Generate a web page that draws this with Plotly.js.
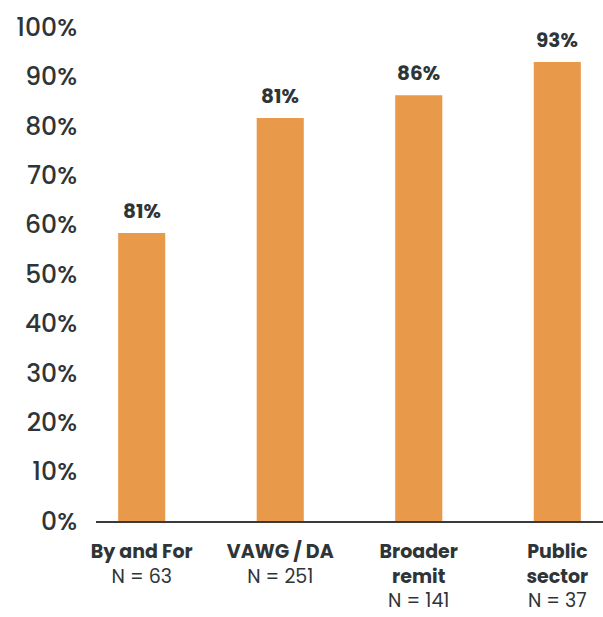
<!DOCTYPE html>
<html>
<head>
<meta charset="utf-8">
<script src="https://cdn.plot.ly/plotly-3.0.1.min.js"></script>
<style>
  html, body { margin: 0; padding: 0; background: #ffffff; }
  #chart { width: 603px; height: 617px; }
</style>
</head>
<body>
<div id="chart"></div>
<script>
const categories = ["By and For", "VAWG / DA", "Broader remit", "Public sector"];
const tickLabels = [
  "<b>By and For</b><br>N = 63",
  "<b>VAWG / DA</b><br>N = 251",
  "<b>Broader<br>remit</b><br>N = 141",
  "<b>Public<br>sector</b><br>N = 37"
];
const values = [0.583, 0.816, 0.862, 0.929];
const valueLabels = ["81%", "81%", "86%", "93%"];

const FONT = "Poppins, Inter, 'Open Sans', sans-serif";
const DARK = "#2f3537";

const trace = {
  type: "bar",
  x: categories,
  y: values,
  marker: { color: "#E8994A" },
  width: 0.34,
  hoverinfo: "skip"
};

const annotations = categories.map((c, i) => ({
  x: c,
  y: values[i],
  xref: "x",
  yref: "y",
  text: "<b>" + valueLabels[i] + "</b>",
  showarrow: false,
  yanchor: "bottom",
  yshift: 6,
  font: { family: FONT, size: 20, color: DARK }
}));

const layout = {
  width: 603,
  height: 617,
  margin: { l: 96, r: 0, t: 27, b: 96 },
  paper_bgcolor: "#ffffff",
  plot_bgcolor: "#ffffff",
  showlegend: false,
  font: { family: FONT, color: DARK },
  xaxis: {
    type: "category",
    range: [-0.33, 3.33],
    tickmode: "array",
    tickvals: categories,
    ticktext: tickLabels,
    tickfont: { family: FONT, size: 19, color: DARK },
    showline: true,
    linecolor: "#3a3a3a",
    linewidth: 2,
    ticks: "",
    ticklabelstandoff: 12,
    showgrid: false,
    zeroline: false,
    fixedrange: true
  },
  yaxis: {
    range: [0, 1],
    tickvals: [0, 0.1, 0.2, 0.3, 0.4, 0.5, 0.6, 0.7, 0.8, 0.9, 1.0],
    tickformat: ".0%",
    tickfont: { family: FONT, size: 25, color: DARK, weight: 500 },
    showgrid: false,
    zeroline: false,
    showline: false,
    ticks: "",
    ticklabelstandoff: 18,
    fixedrange: true
  },
  annotations: annotations
};

Plotly.newPlot("chart", [trace], layout, { displayModeBar: false, staticPlot: true });
</script>
</body>
</html>
